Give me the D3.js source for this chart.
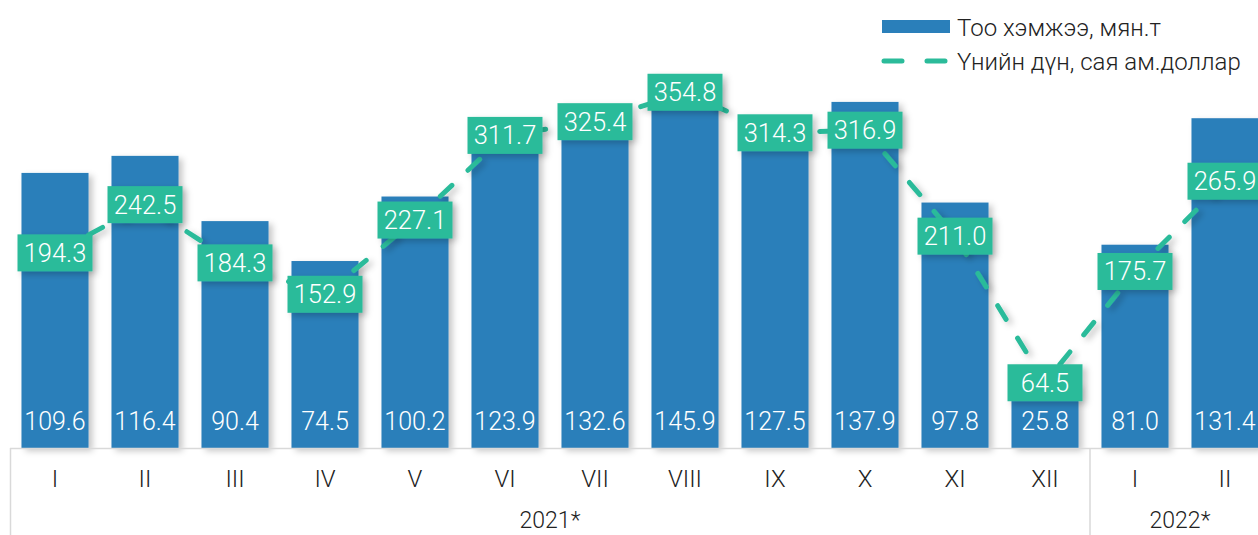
<!DOCTYPE html>
<html><head><meta charset="utf-8">
<script src="https://cdn.jsdelivr.net/npm/d3@7"></script>
<style>
html,body{margin:0;padding:0;background:#fff;}
svg{display:block;font-family:Roboto,"Noto Sans",sans-serif;}
</style></head><body>
<svg id="c" width="1258" height="535"></svg>
<script>
const months = ["I","II","III","IV","V","VI","VII","VIII","IX","X","XI","XII","I","II"];
const years = ["2021*","2022*"];
const yearSpans = [12, 2];
const quantity = [109.6,116.4,90.4,74.5,100.2,123.9,132.6,145.9,127.5,137.9,97.8,25.8,81.0,131.4];
const valueUsd = [194.3,242.5,184.3,152.9,227.1,311.7,325.4,354.8,314.3,316.9,211.0,64.5,175.7,265.9];
const legendLabels = ["Тоо хэмжээ, мян.т","Үнийн дүн, сая ам.доллар"];

const barColor = "#2a7fba", lineColor = "#2bbb9a", gridColor = "#d9d9d9", textColor = "#222";
const svg = d3.select("#c");
const baseY = 448;
const idx = months.map((m,i)=>i);
const x = d3.scaleBand().domain(idx).range([10,1270]).paddingInner(0.255).paddingOuter(0.1275);
const y = d3.scaleLinear().domain([0,178.5]).range([baseY,0]);
const y2 = d3.scaleLinear().domain([0,447]).range([baseY-0.7,0]);

const defs = svg.append("defs");
const f = defs.append("filter").attr("id","sh").attr("x","-20%").attr("y","-20%").attr("width","150%").attr("height","150%");
f.append("feDropShadow").attr("dx",4).attr("dy",3).attr("stdDeviation",3).attr("flood-color","#000").attr("flood-opacity",0.22);

// bars
svg.append("g").selectAll("rect").data(quantity).join("rect")
  .attr("x",(d,i)=>x(i)).attr("y",d=>y(d)).attr("width",x.bandwidth()).attr("height",d=>baseY-y(d))
  .attr("fill",barColor).attr("filter","url(#sh)");
svg.append("g").selectAll("text").data(quantity).join("text")
  .attr("x",(d,i)=>x(i)+x.bandwidth()/2).attr("y",430).attr("text-anchor","middle")
  .attr("fill","#fff").attr("font-size",25).attr("font-weight",300).text(d=>d.toFixed(1));

// axis frame
const ax = svg.append("g").attr("stroke",gridColor).attr("stroke-width",1.5).attr("fill","none");
ax.append("line").attr("x1",10).attr("x2",1270).attr("y1",baseY+0.5).attr("y2",baseY+0.5);
ax.append("line").attr("x1",10.5).attr("x2",10.5).attr("y1",baseY).attr("y2",535);
const splitX = x(12) - x.step()*x.paddingInner()/2;
ax.append("line").attr("x1",splitX).attr("x2",splitX).attr("y1",baseY).attr("y2",535);

svg.append("g").selectAll("text").data(months).join("text")
  .attr("x",(d,i)=>x(i)+x.bandwidth()/2).attr("y",487).attr("text-anchor","middle")
  .attr("fill",textColor).attr("font-size",24).attr("font-weight",300).text(d=>d);
let start = 0;
years.forEach((yr,k)=>{
  const a = x(start) - x.step()*x.paddingInner()/2;
  const b = x(start+yearSpans[k]-1) + x.bandwidth() + x.step()*x.paddingInner()/2;
  svg.append("text").attr("x",(a+b)/2).attr("y",528).attr("text-anchor","middle")
    .attr("fill",textColor).attr("font-size",23).attr("font-weight",300).text(yr);
  start += yearSpans[k];
});

// line
const line = d3.line().x((d,i)=>x(i)+x.bandwidth()/2).y(d=>y2(d));
svg.append("path").datum(valueUsd).attr("d",line).attr("fill","none")
  .attr("stroke",lineColor).attr("stroke-width",5).attr("stroke-linecap","round")
  .attr("stroke-dasharray","16,22").attr("filter","url(#sh)");

const lw = 75, lh = 37;
const lg = svg.append("g").selectAll("g").data(valueUsd).join("g")
  .attr("transform",(d,i)=>`translate(${x(i)+x.bandwidth()/2},${y2(d)})`);
lg.append("rect").attr("x",-lw/2).attr("y",-lh/2).attr("width",lw).attr("height",lh)
  .attr("fill",lineColor).attr("filter","url(#sh)");
lg.append("text").attr("text-anchor","middle").attr("y",9).attr("fill","#fff")
  .attr("font-size",25.5).attr("font-weight",300).text(d=>d.toFixed(1));

// legend
const leg = svg.append("g");
leg.append("rect").attr("x",882).attr("y",20).attr("width",68).attr("height",13).attr("fill",barColor);
leg.append("text").attr("x",957).attr("y",36).attr("font-size",24).attr("font-weight",300).attr("fill",textColor).text(legendLabels[0]);
leg.append("line").attr("x1",884).attr("x2",948).attr("y1",61).attr("y2",61).attr("stroke",lineColor)
  .attr("stroke-width",5).attr("stroke-linecap","round").attr("stroke-dasharray","18,25");
leg.append("text").attr("x",957).attr("y",70).attr("font-size",24).attr("font-weight",300).attr("fill",textColor).text(legendLabels[1]);
</script>
</body></html>
